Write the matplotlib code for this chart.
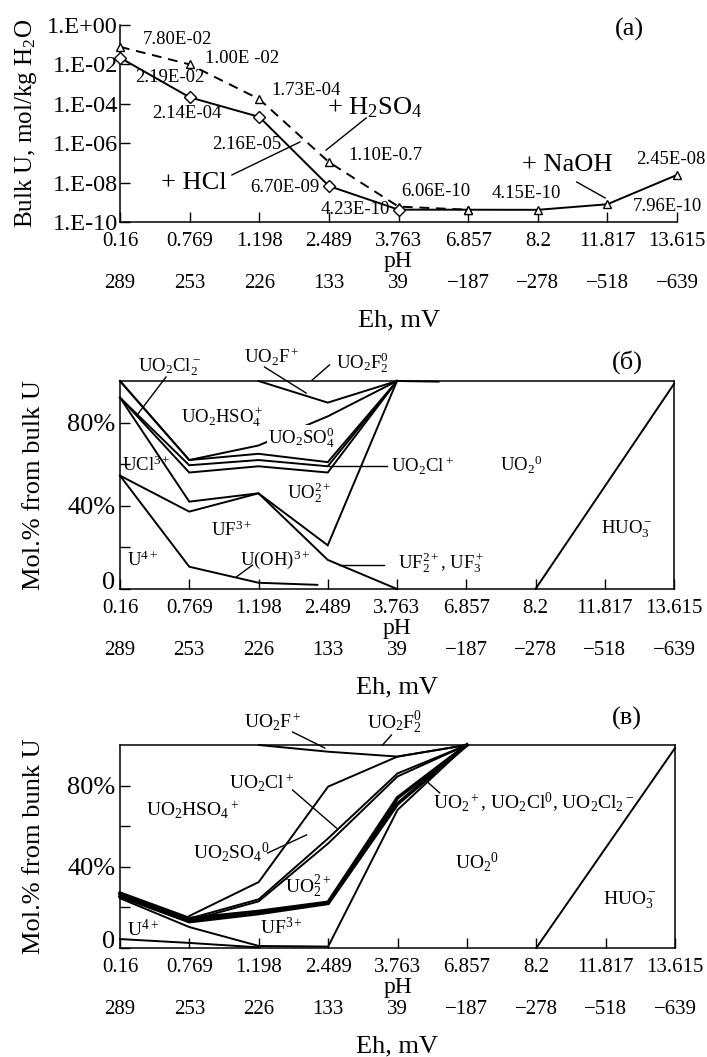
import matplotlib
matplotlib.use("Agg")
import matplotlib.pyplot as plt

plt.rcParams['font.family'] = ['Liberation Serif', 'DejaVu Serif']
plt.rcParams['mathtext.fontset'] = 'custom'
plt.rcParams['mathtext.rm'] = 'Liberation Serif'
plt.rcParams['mathtext.it'] = 'Liberation Serif:italic'
plt.rcParams['mathtext.bf'] = 'Liberation Serif:bold'

# pH points of the titration and the matching Eh
ph_labels = ['0.16', '0.769', '1.198', '2.489', '3.763', '6.857', '8.2', '11.817', '13.615']
eh_labels = ['289', '253', '226', '133', '39', '\u2212187', '\u2212278', '\u2212518', '\u2212639']

# (a) bulk uranium, mol/kg H2O
hcl_x = [0, 1, 2, 3, 4]
hcl_u = [2.19e-2, 2.14e-4, 2.16e-5, 6.70e-9, 4.23e-10]
hcl_txt = ['2.19E-02', '2.14E-04', '2.16E-05', '6.70E-09', '4.23E-10']

h2so4_x = [0, 1, 2, 3, 4, 5]
h2so4_u = [7.80e-2, 1.00e-2, 1.73e-4, 1.10e-7, 6.06e-10, 4.2e-10]
h2so4_txt = ['7.80E-02', '1.00E -02', '1.73E-04', '1.10E-0.7', '6.06E-10']

naoh_x = [4, 5, 6, 7, 8]
naoh_u = [4.23e-10, 4.2e-10, 4.15e-10, 7.96e-10, 2.45e-8]
naoh_txt = ['4.15E-10', '7.96E-10', '2.45E-08']

# (б) species boundaries, cumulative mol.%
b_x = [
    [0, 1, 2, 3, 4],
    [0, 1, 2, 3, 4],
    [0, 1, 2, 3, 4],
    [0, 1, 2, 3, 4],
    [2, 3, 4],
    [4, 4.6],
    [0, 1, 2, 3, 4],
    [0, 1, 2, 3, 4],
    [0, 1, 2, 2.85],
    [6, 8],
]
b_y = [
    [100, 62, 65, 61, 100],
    [100, 62, 69, 83, 100],
    [92, 59.5, 62, 59, 100],
    [92, 56, 59, 56, 100],
    [100, 89.6, 100],
    [100, 99.7],
    [92, 42, 46, 21, 100],
    [54.5, 37.2, 46, 14, 0],
    [54.5, 10.7, 3, 2],
    [0, 98.6],
]

# (в) species boundaries, cumulative mol.%
v_x = [
    [2, 3, 4, 5],
    [1, 2, 3, 4, 5],
    [1, 2, 3, 4, 5],
    [1, 2, 3, 4, 5],
    [0, 1, 2, 3, 4, 5],
    [0, 1, 2, 3, 4, 5],
    [0, 1, 2, 3, 4, 5],
    [0, 1, 2],
    [6, 8],
]
v_y = [
    [100, 96.7, 94.3, 100],
    [15.8, 32.5, 79.5, 94.3, 100],
    [14.5, 24, 54, 86, 100],
    [13.5, 23, 51.5, 84.5, 100],
    [27, 14.5, 18, 22.5, 74, 100],
    [25.5, 13, 17, 22, 71, 100],
    [24.5, 10.3, 1, 0.7, 68, 100],
    [4.4, 2.5, 0.3],
    [0, 98.5],
]
v_lw = [1.4, 1.4, 1.4, 1.4, 2.6, 2.6, 1.4, 1.4, 1.4]

W, H = 707, 1057
fig = plt.figure(figsize=(W / 100, H / 100), dpi=100)


def ph_axis(ax, h_px):
    ax.set_xlim(0, 8)
    ax.set_xticks(range(9), ph_labels, fontsize=15)
    ax.tick_params(axis='x', direction='in', length=7, width=1, pad=7)
    ax.set_xlabel('pH', fontsize=17, labelpad=0.5)
    sec = ax.secondary_xaxis(-52 / h_px)
    sec.set_xticks(range(9), eh_labels, fontsize=15)
    sec.tick_params(length=0, pad=0)
    sec.spines['bottom'].set_visible(False)
    sec.set_xlabel('Eh, mV', fontsize=19, labelpad=11.5)
    for s in ax.spines.values():
        s.set_linewidth(1.1)


def note(ax, s, x, y, size=13.5, **kw):
    ax.text(x, y, s, transform=ax.transAxes, ha='center', va='center',
            fontsize=size, clip_on=False, **kw)


def leader(ax, x0, y0, x1, y1):
    ax.plot([x0, x1], [y0, y1], color='black', lw=1.0,
            transform=ax.transAxes, clip_on=False)


# ---------------- (a) ----------------
ax = fig.add_axes([120 / W, (H - 222) / H, 557 / W, 197 / H])
ax.set_yscale('log')
ax.set_ylim(1e-10, 1e0)
ax.plot(h2so4_x, h2so4_u, color='black', lw=1.4, ls=(0, (5, 3.5)),
        marker='^', ms=6, mfc='white', mec='black', clip_on=False, zorder=3)
ax.plot(naoh_x, naoh_u, color='black', lw=1.4, clip_on=False, zorder=3)
ax.plot(naoh_x[1:], naoh_u[1:], ls='none', marker='^', ms=6, mfc='white',
        mec='black', clip_on=False, zorder=4)
ax.plot(hcl_x, hcl_u, color='black', lw=1.4, marker='D', ms=6,
        mfc='white', mec='black', clip_on=False, zorder=4)
ax.spines['top'].set_visible(False)
ax.spines['right'].set_visible(False)
ax.set_yticks([1e0, 1e-2, 1e-4, 1e-6, 1e-8, 1e-10],
              ['1.E+00', '1.E-02', '1.E-04', '1.E-06', '1.E-08', '1.E-10'], fontsize=17.5)
ax.yaxis.set_minor_locator(matplotlib.ticker.NullLocator())
ax.tick_params(axis='y', direction='in', length=7, width=1, pad=1.5)
ax.set_ylabel('Bulk U, mol/kg H$_2$O', fontsize=18)
ax.yaxis.set_label_coords(-0.145, 0.5)
ph_axis(ax, 197)

for s, (x, y) in zip(hcl_txt, [(.090, .731), (.120, .553), (.228, .391),
                               (.296, .173), (.422, .061)]):
    note(ax, s, x, y)
for s, (x, y) in zip(h2so4_txt, [(.104, .924), (.219, .832), (.334, .670),
                                 (.476, .340), (.567, .157)]):
    note(ax, s, x, y)
for s, (x, y) in zip(naoh_txt, [(.729, .147), (.982, .081), (.989, .315)]):
    note(ax, s, x, y)
note(ax, '+ H$_2$SO$_4$', .458, .579, size=19)
note(ax, '+ HCl', .133, .198, size=19)
note(ax, '+ NaOH', .803, .289, size=19)
note(ax, '(a)', .914, .975, size=19)
leader(ax, .201, .239, .323, .406)
leader(ax, .442, .528, .370, .365)
leader(ax, .820, .203, .871, .122)


def mol_axis(ax, label):
    ax.set_ylim(0, 100)
    ax.set_yticks([0, 20, 40, 60, 80], ['0', '', '40%', '', '80%'], fontsize=19)
    ax.tick_params(axis='y', direction='in', length=7, width=1, pad=3.5)
    # the zero sits a little above the bottom spine
    ax.yaxis.get_major_ticks()[0].label1.set_verticalalignment('baseline')
    ax.set_ylabel(label, fontsize=19)
    ax.yaxis.set_label_coords(-0.135, 0.5)


# ---------------- (б) ----------------
ax = fig.add_axes([120 / W, (H - 589) / H, 554 / W, 208 / H])
for xs, ys in zip(b_x, b_y):
    ax.plot(xs, ys, color='black', lw=1.4, solid_joinstyle='miter', clip_on=False)
mol_axis(ax, 'Mol.% from bulk U')
ph_axis(ax, 208)

note(ax, 'UO$_2$Cl$_2^-$', .090, 1.067)
note(ax, 'UO$_2$F$^+$', .273, 1.115)
note(ax, 'UO$_2$F$_2^0$', .437, 1.087)
note(ax, 'UO$_2$HSO$_4^+$', .185, .827)
note(ax, 'UO$_2$SO$_4^0$', .327, .726, bbox=dict(fc='white', ec='none', pad=0.5))
note(ax, 'UO$_2$Cl$^+$', .545, .591)
note(ax, 'UO$_2^{2+}$', .342, .462)
note(ax, 'UF$^{3+}$', .201, .284)
note(ax, 'U$^{4+}$', .040, .139)
note(ax, 'UCl$^{3+}$', .047, .596)
note(ax, 'U(OH)$^{3+}$', .281, .139)
note(ax, 'UF$_2^{2+}$, UF$_3^+$', .579, .125)
note(ax, 'UO$_2$$^0$', .725, .596)
note(ax, 'HUO$_3^-$', .914, .288)
note(ax, '(б)', .915, 1.091, size=19)
leader(ax, .083, 1.019, .031, .837)
leader(ax, .261, 1.067, .336, .942)
leader(ax, .378, 1.077, .347, 1.005)
leader(ax, .378, .591, .482, .591)
leader(ax, .239, .115, .210, .058)
leader(ax, .396, .115, .477, .115)

# ---------------- (в) ----------------
ax = fig.add_axes([120 / W, (H - 948) / H, 555 / W, 203 / H])
for xs, ys, lw in zip(v_x, v_y, v_lw):
    ax.plot(xs, ys, color='black', lw=lw, solid_joinstyle='miter', clip_on=False)
mol_axis(ax, 'Mol.% from bunk U')
ph_axis(ax, 203)

note(ax, 'UO$_2$F$^+$', .275, 1.113, size=14)
note(ax, 'UO$_2$F$_2^0$', .495, 1.108, size=14)
note(ax, '(в)', .914, 1.133, size=19)
note(ax, 'UO$_2$Cl$^+$', .255, .813, size=14)
note(ax, 'UO$_2$HSO$_4$$^+$', .131, .680, size=14)
note(ax, 'UO$_2$SO$_4$$^0$', .201, .473, size=14)
note(ax, 'UO$_2^{2+}$', .338, .300, size=14)
note(ax, 'UF$^{3+}$', .291, .099, size=14)
note(ax, 'U$^{4+}$', .041, .089, size=14)
note(ax, 'UO$_2$$^+$, UO$_2$Cl$^0$, UO$_2$Cl$_2$$^-$', .746, .714, size=14)
note(ax, 'UO$_2$$^0$', .644, .424, size=14)
note(ax, 'HUO$_3^-$', .919, .236, size=14)
leader(ax, .311, 1.064, .369, .985)
leader(ax, .489, 1.049, .473, 1.0)
leader(ax, .311, .778, .390, .591)
leader(ax, .266, .468, .336, .557)
leader(ax, .554, .818, .576, .764)

fig.savefig('out.png', dpi=100)
